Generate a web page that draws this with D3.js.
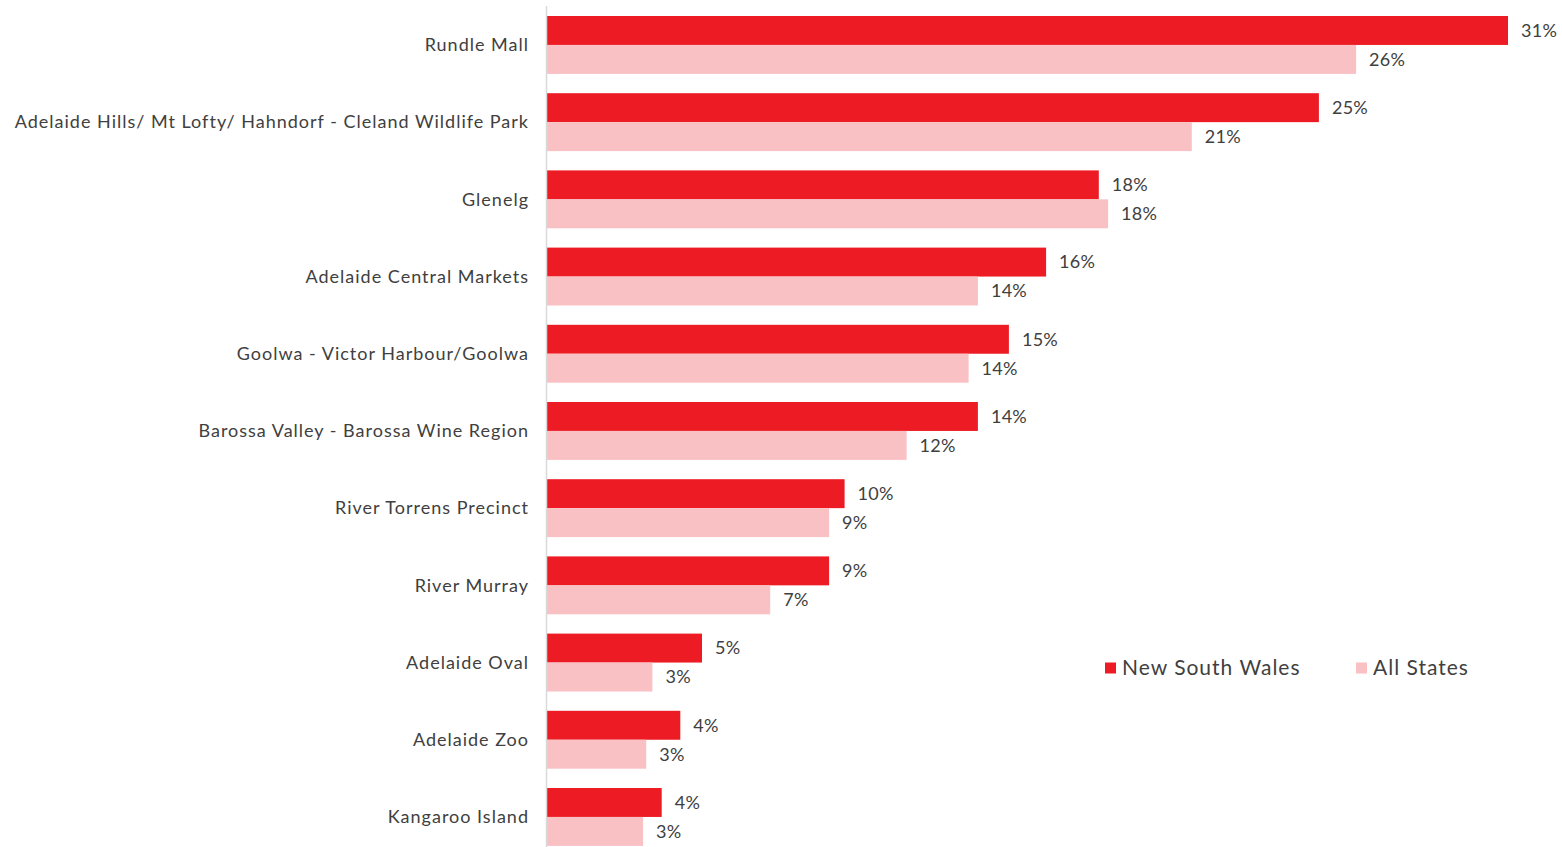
<!DOCTYPE html>
<html>
<head>
<meta charset="utf-8">
<script src="https://cdn.jsdelivr.net/npm/d3@7"></script>
<style>
  html, body { margin: 0; padding: 0; background: #fff; }
  svg { display: block; font-family: Lato, "Open Sans", sans-serif; }
</style>
</head>
<body>
<svg id="chart" width="1562" height="847"></svg>
<script>
// Attractions visited (share of visitors), ranked by New South Wales
const categories = [
  "Rundle Mall",
  "Adelaide Hills/ Mt Lofty/ Hahndorf - Cleland Wildlife Park",
  "Glenelg",
  "Adelaide Central Markets",
  "Goolwa - Victor Harbour/Goolwa",
  "Barossa Valley - Barossa Wine Region",
  "River Torrens Precinct",
  "River Murray",
  "Adelaide Oval",
  "Adelaide Zoo",
  "Kangaroo Island"
];
const seriesNames = ["New South Wales", "All States"];
const nswValues = [31.0, 24.9, 17.8, 16.1, 14.9, 13.9, 9.6, 9.1, 5.0, 4.3, 3.7];
const allStatesValues = [26.1, 20.8, 18.1, 13.9, 13.6, 11.6, 9.1, 7.2, 3.4, 3.2, 3.1];
const seriesColors = ["#ED1C24", "#F9C1C4"];

const rows = categories.map((c, i) => ({
  category: c,
  values: [nswValues[i], allStatesValues[i]]
}));

const svg = d3.select("#chart");
const plotLeft = 547, plotTop = 16;
const x = d3.scaleLinear().domain([0, 32]).range([plotLeft, plotLeft + 32 * 31]);
const y = d3.scaleBand().domain(categories)
  .range([plotTop, plotTop + 77.2 * categories.length])
  .paddingInner(0.25).paddingOuter(0.125).align(0);
const inner = d3.scaleBand().domain(seriesNames).range([0, y.bandwidth()]);

const textColor = "#404040";

// bar groups, one per attraction
const groups = svg.append("g").selectAll("g").data(rows).join("g")
  .attr("transform", d => `translate(0,${y(d.category)})`);

groups.selectAll("rect").data(d => d.values.map((v, k) => ({ v, k }))).join("rect")
  .attr("x", x(0))
  .attr("y", d => inner(seriesNames[d.k]))
  .attr("width", d => x(d.v) - x(0))
  .attr("height", inner.bandwidth())
  .attr("fill", d => seriesColors[d.k]);

groups.selectAll("text.val").data(d => d.values.map((v, k) => ({ v, k }))).join("text")
  .attr("class", "val")
  .attr("x", d => x(d.v) + 13)
  .attr("y", d => inner(seriesNames[d.k]) + inner.bandwidth() / 2)
  .attr("dy", "0.35em")
  .attr("font-size", 18)
  .attr("letter-spacing", 0.3)
  .attr("fill", textColor)
  .text(d => Math.round(d.v) + "%");

// category labels
groups.append("text")
  .attr("class", "cat")
  .attr("x", plotLeft - 18)
  .attr("y", y.bandwidth() / 2)
  .attr("dy", "0.35em")
  .attr("text-anchor", "end")
  .attr("font-size", 18)
  .attr("letter-spacing", 1)
  .attr("fill", textColor)
  .text(d => d.category);

// vertical axis line
svg.append("line")
  .attr("x1", plotLeft - 0.5).attr("x2", plotLeft - 0.5)
  .attr("y1", 6).attr("y2", 847)
  .attr("stroke", "#d9d9d9").attr("stroke-width", 1.5);

// legend
const legendX = [1105, 1356];
const legend = svg.append("g").selectAll("g").data(seriesNames).join("g")
  .attr("transform", (d, i) => `translate(${legendX[i]},668)`);
legend.append("rect")
  .attr("x", 0).attr("y", -5.5).attr("width", 11).attr("height", 11)
  .attr("fill", (d, i) => seriesColors[i]);
legend.append("text")
  .attr("x", 17).attr("y", 0).attr("dy", "0.35em")
  .attr("font-size", 21)
  .attr("letter-spacing", 1)
  .attr("fill", textColor)
  .text(d => d);
</script>
</body>
</html>
